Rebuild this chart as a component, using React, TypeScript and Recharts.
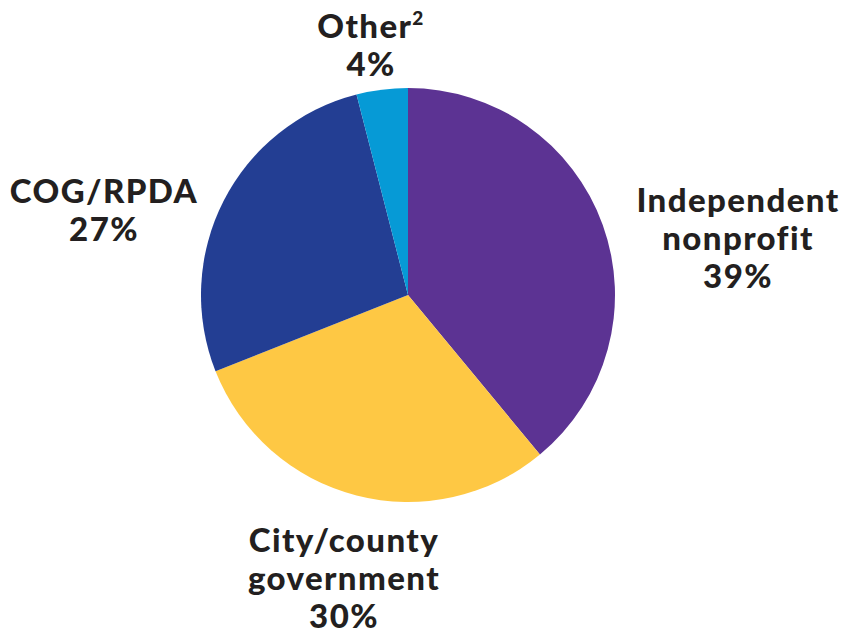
import { Cell, Pie, PieChart } from 'recharts'

const categories = ['Independent nonprofit', 'City/county government', 'COG/RPDA', 'Other']
const shares = [39, 30, 27, 4]
const labelLines = [['Independent', 'nonprofit'], ['City/county', 'government'], ['COG/RPDA'], ['Other']]
const footnotes = ['', '', '', '2']

const colors = ['#5c3393', '#fec844', '#233e93', '#069ad6']
// label anchor relative to pie centre: [dx, first baseline dy]
const labelOffsets = [
  [330, -83],
  [-64, 257],
  [-304, -92],
  [-37, -257],
]
const lineHeight = 38
const supShift = 13

const data = categories.map((name, i) => ({ name, value: shares[i] }))

function renderLabel(props: any) {
  const { cx, cy, index } = props
  const [dx, dy] = labelOffsets[index]
  const lines = [...labelLines[index], `${shares[index]}%`]
  const note = footnotes[index]
  return (
    <text
      x={cx + dx}
      y={cy + dy}
      textAnchor="middle"
      fill="#231f20"
      fontFamily="Lato, 'Open Sans', sans-serif"
      fontWeight={900}
      fontSize={33}
      letterSpacing={1.4}
    >
      {lines.map((line, i) => (
        <tspan
          key={i}
          x={cx + dx}
          dy={i === 0 ? 0 : i === 1 && note ? lineHeight + supShift : lineHeight}
        >
          {line}
          {i === 0 && note ? (
            <tspan fontSize={19} dy={-supShift}>
              {note}
            </tspan>
          ) : null}
        </tspan>
      ))}
    </text>
  )
}

export default function App() {
  return (
    <div style={{ position: 'absolute', left: 0, top: 0, background: '#fff' }}>
      <PieChart width={851} height={633} margin={{ top: 0, right: 0, bottom: 0, left: 0 }}>
        <Pie
          data={data}
          dataKey="value"
          nameKey="name"
          cx={408}
          cy={295}
          outerRadius={207}
          startAngle={90}
          endAngle={-270}
          stroke="none"
          label={renderLabel}
          labelLine={false}
          isAnimationActive={false}
        >
          {data.map((entry, i) => (
            <Cell key={entry.name} fill={colors[i]} />
          ))}
        </Pie>
      </PieChart>
    </div>
  )
}
